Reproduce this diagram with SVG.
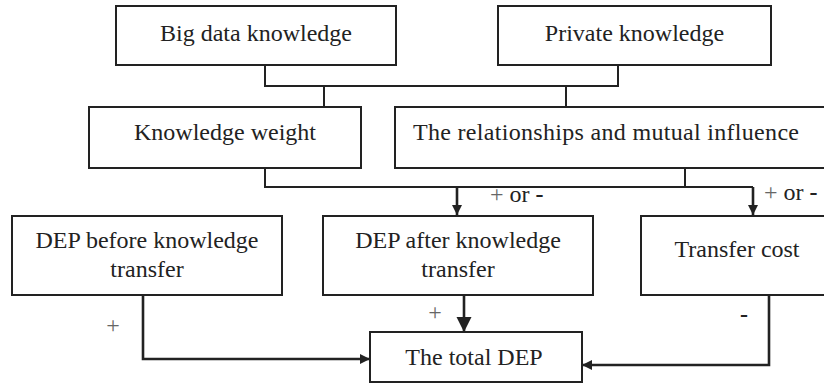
<svg xmlns="http://www.w3.org/2000/svg" width="824" height="387" viewBox="0 0 824 387">
<style>
.box{fill:#fff;stroke:#222;stroke-width:2}
.t{font-family:'Liberation Serif','DejaVu Serif',serif;font-size:24px;fill:#222;text-anchor:middle}
.ln{fill:none;stroke:#222;stroke-width:2}
.ar{fill:none;stroke:#222;stroke-width:2.6}
.pl{fill:#666}
.mn{font-weight:bold}
</style>
<defs>
<marker id="a" markerUnits="userSpaceOnUse" markerWidth="12" markerHeight="12" refX="10" refY="5" orient="auto">
<path d="M0,0 L10,5 L0,10 Z" fill="#222"/>
</marker>
<marker id="ab" markerUnits="userSpaceOnUse" markerWidth="16" markerHeight="16" refX="15" refY="7.5" orient="auto">
<path d="M0,0 L15,7.5 L0,15 Z" fill="#222"/>
</marker>
</defs>
<rect width="824" height="387" fill="#fff"/>
<g id="connectors">
<path class="ln" d="M265,65 V86 H618 V65"/>
<path class="ln" d="M324,86 V107 M566,86 V107"/>
<path class="ln" d="M265,168 V187 H753 M685,168 V187"/>
<path class="ar" d="M457,187 V215" marker-end="url(#a)"/>
<path class="ar" d="M753,187 V215" marker-end="url(#a)"/>
<path class="ar" d="M143,295 V359 H370" marker-end="url(#a)"/>
<path class="ar" d="M464,295 V332" marker-end="url(#ab)"/>
<path class="ar" d="M769,288 V365 H582" marker-end="url(#a)"/>
</g>
<g id="big-data">
<rect class="box" x="116" y="6" width="280" height="59"/>
<text class="t" x="256" y="41">Big data knowledge</text>
</g>
<g id="private">
<rect class="box" x="498" y="6" width="273" height="59"/>
<text class="t" x="634.5" y="41">Private knowledge</text>
</g>
<g id="weight">
<rect class="box" x="89" y="107" width="272" height="61"/>
<text class="t" x="225" y="140">Knowledge weight</text>
</g>
<g id="relationships">
<rect class="box" x="395" y="107" width="440" height="61"/>
<text class="t" x="413" y="140" style="text-anchor:start" textLength="386" lengthAdjust="spacing">The relationships and mutual influence</text>
</g>
<g id="dep-before">
<rect class="box" x="12" y="216" width="270" height="79"/>
<text class="t" x="147" y="248">DEP before knowledge</text>
<text class="t" x="147" y="277">transfer</text>
</g>
<g id="dep-after">
<rect class="box" x="323" y="216" width="270" height="79"/>
<text class="t" x="458" y="248">DEP after knowledge</text>
<text class="t" x="458" y="277">transfer</text>
</g>
<g id="transfer-cost">
<rect class="box" x="641" y="216" width="200" height="79"/>
<text class="t" x="737" y="257">Transfer cost</text>
</g>
<g id="total">
<rect class="box" x="370" y="332" width="212" height="50"/>
<text class="t" x="474" y="365">The total DEP</text>
</g>
<g id="labels">
<text class="t" x="490" y="202" style="text-anchor:start"><tspan class="pl">+</tspan> or <tspan class="mn">-</tspan></text>
<text class="t" x="764" y="200" style="text-anchor:start"><tspan class="pl">+</tspan> or <tspan class="mn">-</tspan></text>
<text class="t pl" x="113" y="333">+</text>
<text class="t pl" x="435" y="320">+</text>
<text class="t mn" x="744" y="322">-</text>
</g>
</svg>
